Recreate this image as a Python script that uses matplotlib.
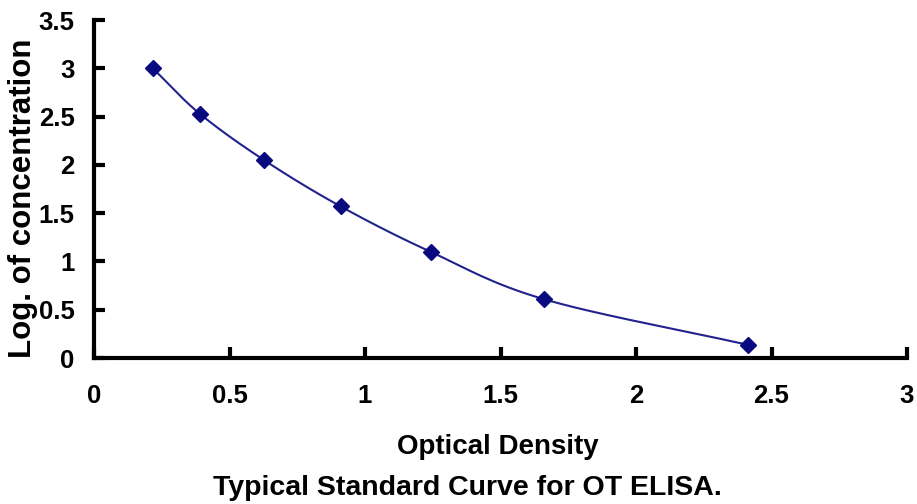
import numpy as np
import matplotlib
matplotlib.use("Agg")
import matplotlib.pyplot as plt

od = [0.217, 0.39, 0.627, 0.91, 1.242, 1.659, 2.415]
log_conc = [3.00, 2.53, 2.05, 1.57, 1.10, 0.61, 0.135]
xticks = [0, 0.5, 1, 1.5, 2, 2.5, 3]
yticks = [0, 0.5, 1, 1.5, 2, 2.5, 3, 3.5]
xtick_labels = ["0", "0.5", "1", "1.5", "2", "2.5", "3"]
ytick_labels = ["0", "0.5", "1", "1.5", "2", "2.5", "3", "3.5"]

plt.rcParams['font.family'] = ['Liberation Sans', 'DejaVu Sans']

def catmull_rom(xs, ys, n=30):
    px = np.asarray(xs, float); py = np.asarray(ys, float)
    px = np.concatenate([[2*px[0]-px[1]], px, [2*px[-1]-px[-2]]])
    py = np.concatenate([[2*py[0]-py[1]], py, [2*py[-1]-py[-2]]])
    ox, oy = [], []
    t = np.linspace(0, 1, n)
    for i in range(1, len(px)-2):
        p0, p1, p2, p3 = [np.array([px[j], py[j]]) for j in (i-1, i, i+1, i+2)]
        for tt in t:
            pt = 0.5*((2*p1) + (-p0+p2)*tt + (2*p0-5*p1+4*p2-p3)*tt**2 + (-p0+3*p1-3*p2+p3)*tt**3)
            ox.append(pt[0]); oy.append(pt[1])
    return ox, oy

fig = plt.figure(figsize=(9.17, 5.04), dpi=100)
ax = fig.add_axes([94/917, 1-358/504, (907-94)/917, (358-20)/504])

sx, sy = catmull_rom(od, log_conc)
ax.plot(sx, sy, color='#22228e', lw=1.5, zorder=2)
ax.plot(od, log_conc, linestyle='none', marker='D', markersize=8, color='#0a0a80', zorder=3)

ax.set_xlim(0, 3)
ax.set_ylim(0, 3.5)
ax.set_xticks(xticks)
ax.set_xticklabels(xtick_labels)
ax.set_yticks(yticks)
ax.set_yticklabels(ytick_labels)
for s in ['top', 'right']:
    ax.spines[s].set_visible(False)
for s in ['left', 'bottom']:
    ax.spines[s].set_linewidth(3)
ax.tick_params(direction='in', length=8, width=3, labelsize=18.5)
ax.tick_params(axis='x', pad=19)
ax.tick_params(axis='y', pad=14)
for lab in ax.get_xticklabels() + ax.get_yticklabels():
    lab.set_fontweight('bold')
fig.text(498/917, 1-447/504, 'Optical Density', fontsize=20, fontweight='bold', ha='center', va='center')
fig.text(23/917, 1-198/504, 'Log. of concentration', fontsize=22.5, fontweight='bold', ha='center', va='center', rotation=90)
fig.text(467/917, 1-488/504, 'Typical Standard Curve for OT ELISA.', fontsize=20.5, fontweight='bold', ha='center', va='center')

fig.savefig('out.png', dpi=100)
